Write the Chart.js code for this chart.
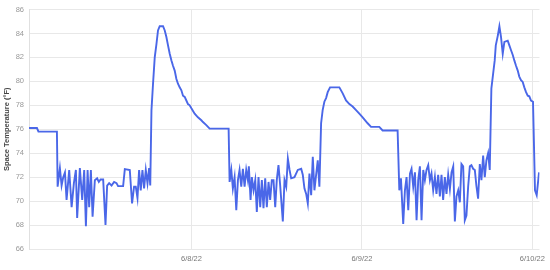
<!DOCTYPE html>
<html>
<head>
<meta charset="utf-8">
<title>Space Temperature</title>
<script src="https://cdn.jsdelivr.net/npm/chart.js@4.4.1/dist/chart.umd.min.js"></script>
<style>
  html, body { margin: 0; padding: 0; background: #fff; }
  #wrap { width: 550px; height: 270px; }
</style>
</head>
<body>
<div id="wrap"><canvas id="chart" width="550" height="270"></canvas></div>
<script>
// hours since 6/7/22 00:00
const hours = [
  1.14, 2.26, 2.47, 5.07, 5.17, 5.49, 5.73, 5.96, 6.20, 6.43, 6.80, 7.14, 7.46, 7.74, 7.92, 8.30, 8.63, 8.91, 9.15, 9.39,
  9.61, 9.85, 10.09, 10.41, 10.73, 10.97, 11.21, 11.58, 11.91, 12.14, 12.42, 12.76, 13.12, 13.46, 13.68, 14.39, 14.63, 15.33, 15.65, 15.93,
  16.17, 16.41, 16.64, 16.87, 17.11, 17.34, 17.58, 17.82, 18.05, 18.21,
  18.38, 18.60, 18.84, 19.08, 19.30, 19.54, 20.01, 20.25, 20.48, 20.71, 20.95, 21.19, 21.41, 21.65, 21.89, 22.11, 22.35, 22.59, 22.82, 23.06,
  23.29, 23.52, 23.76, 24.00, 24.46, 24.92, 25.40, 25.63, 26.10, 26.57, 29.24,
  29.38, 29.62, 29.84, 30.08, 30.32, 30.55, 30.78, 31.02, 31.25, 31.49, 31.72, 31.95, 32.09, 32.33, 32.51, 32.75, 32.99, 33.21, 33.45, 33.69,
  33.92, 34.15, 34.39, 34.62, 34.86, 35.09, 35.32, 35.56, 35.80, 36.02, 36.26, 36.50, 36.87, 37.11, 37.35, 37.58, 37.82, 38.05, 38.51, 38.98,
  39.46, 39.68, 39.92, 40.16, 40.39, 40.62, 40.86, 41.09, 41.32, 41.56, 41.79, 42.02,
  42.26, 42.48, 42.72, 42.96, 43.19, 43.52, 44.83, 45.30, 45.77, 46.24, 46.70, 47.18, 47.64, 48.11, 48.81, 49.29, 50.45, 50.92, 53.03,
  53.27, 53.50, 53.82, 54.06, 54.29, 54.53, 54.77, 54.99, 55.23, 55.47, 55.70, 55.93, 56.17, 56.40, 56.64, 56.87, 57.10, 57.34, 57.58, 57.80,
  58.04, 58.28, 58.50, 58.74, 58.98, 59.21, 59.44, 59.68, 59.91, 60.15, 60.39, 60.62, 60.86, 61.09, 61.32, 61.56, 61.79, 62.02, 62.26, 62.49,
  62.72, 62.96, 63.20, 63.42, 63.66, 63.90, 64.12, 64.36, 64.60, 64.83, 65.07, 65.30, 65.53, 65.77, 66.00,
  66.23, 66.47, 66.70, 66.85, 67.13, 67.36, 67.59, 67.83, 68.06, 68.53, 68.76, 69.00, 69.24, 69.46, 69.70, 69.94, 70.16, 70.40, 70.64, 70.87,
  71.11, 71.35, 71.57, 71.81, 72.09, 72.37, 72.61, 72.94
];

// space temperature, °F
const temps = [
  76.1, 76.1, 75.8, 75.8, 71.2, 72.75, 71.3, 72.0, 72.4, 70.1, 72.6, 69.5, 71.5, 72.6, 68.6, 72.75, 70.1, 72.6, 67.9, 72.6,
  69.5, 72.6, 68.7, 71.75, 71.9, 71.6, 71.8, 71.8, 68.0, 71.3, 71.5, 71.3, 71.6, 71.5, 71.25, 71.25, 72.67, 72.6, 69.8, 71.2,
  71.2, 70.25, 72.6, 70.9, 72.6, 71.05, 72.6, 71.5, 72.75, 71.3,
  77.6, 79.8, 82.0, 83.1, 84.25, 84.6, 84.6, 84.25, 83.7, 83.0, 82.3, 81.75, 81.3, 80.9, 80.2, 79.8, 79.5, 79.25, 78.8, 78.7,
  78.4, 78.1, 78.0, 77.75, 77.3, 77.0, 76.75, 76.6, 76.35, 76.05, 76.05,
  71.6, 72.6, 71.05, 72.0, 69.25, 71.75, 72.6, 71.2, 72.7, 71.2, 72.6, 71.75, 72.9, 70.1, 72.0, 70.9, 71.75, 69.1, 72.0, 69.5,
  71.75, 69.4, 71.9, 69.5, 71.6, 70.1, 71.75, 71.75, 69.5, 71.75, 73.0, 71.3, 68.3, 71.75, 71.2, 73.55, 72.6, 71.9, 72.0, 72.6,
  72.7, 72.2, 71.05, 70.6, 69.8, 72.3, 70.5, 73.7, 70.9, 72.2, 73.4, 71.2,
  76.5, 77.6, 78.3, 78.6, 79.1, 79.5, 79.5, 79.0, 78.4, 78.1, 77.9, 77.6, 77.3, 77.0, 76.5, 76.2, 76.2, 75.9, 75.9,
  70.9, 71.9, 68.1, 70.9, 72.0, 69.25, 72.3, 72.7, 71.2, 72.4, 68.4, 71.75, 72.9, 68.4, 72.6, 71.75, 72.6, 73.0, 71.75, 72.3,
  70.9, 72.0, 70.6, 72.2, 70.4, 72.2, 70.1, 72.0, 70.6, 72.2, 71.0, 72.4, 72.9, 68.3, 70.4, 70.9, 69.9, 73.1, 72.9, 68.4,
  68.8, 71.2, 72.9, 73.0, 72.7, 72.6, 71.3, 70.2, 73.1, 71.75, 73.8, 72.0, 73.4, 74.0, 72.6,
  79.4, 80.6, 81.75, 83.0, 83.8, 84.6, 83.7, 82.3, 83.3, 83.4, 83.0, 82.6, 82.2, 81.75, 81.3, 80.9, 80.4, 80.1, 79.95, 79.5,
  79.1, 78.8, 78.75, 78.4, 78.3, 70.9, 70.5, 72.4
];

const dayTicks = [24, 48, 72];
const dayLabels = ["6/8/22", "6/9/22", "6/10/22"];
const tempTicks = [66, 68, 70, 72, 74, 76, 78, 80, 82, 84, 86];

const font = "Arial, 'Liberation Sans', sans-serif";

const points = hours.map((h, i) => ({ x: h, y: temps[i] }));

new Chart(document.getElementById("chart"), {
  type: "line",
  data: {
    datasets: [
      {
        label: "Space Temperature",
        data: points,
        borderColor: "#4a67e8",
        borderWidth: 1.9,
        pointRadius: 0,
        tension: 0,
        fill: false,
      },
    ],
  },
  options: {
    responsive: false,
    animation: false,
    layout: { padding: { top: 9, right: 9, left: 0, bottom: 0 } },
    plugins: {
      legend: { display: false },
      tooltip: { enabled: false },
    },
    scales: {
      x: {
        type: "linear",
        min: 1.14,
        max: 73,
        afterBuildTicks: (scale) => {
          scale.ticks = dayTicks.map((v) => ({ value: v }));
        },
        afterFit: (scale) => {
          scale.height = 21;
        },
        grid: { color: "#e8e8e8", drawTicks: false },
        border: { display: false },
        ticks: {
          padding: 5,
          color: "#777",
          font: { family: font, size: 7.5 },
          maxRotation: 0,
          callback: (value) => dayLabels[dayTicks.indexOf(value)],
        },
      },
      y: {
        min: 66,
        max: 86,
        afterBuildTicks: (scale) => {
          scale.ticks = tempTicks.map((v) => ({ value: v }));
        },
        afterFit: (scale) => {
          scale.width = 29;
        },
        grid: { color: "#e8e8e8", drawTicks: false },
        border: { color: "#e0e0e0" },
        ticks: {
          padding: 5,
          color: "#999",
          font: { family: font, size: 7.5 },
        },
        title: {
          display: true,
          text: "Space Temperature (°F)",
          color: "#444",
          padding: { top: 2, bottom: 0 },
          font: { family: font, size: 7.5, weight: "bold" },
        },
      },
    },
  },
});
</script>
</body>
</html>
